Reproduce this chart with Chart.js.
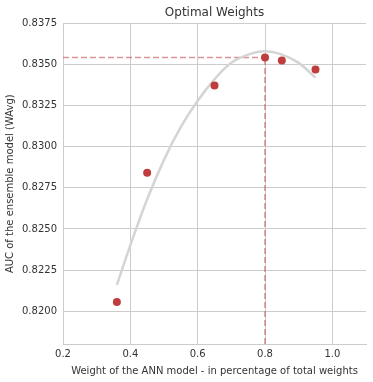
<!DOCTYPE html>
<html>
<head>
<meta charset="utf-8">
<script src="https://cdn.jsdelivr.net/npm/chart.js@4"></script>
<style>
html,body{margin:0;padding:0;background:#fff;}
#wrap{width:373px;height:382px;}
</style>
</head>
<body>
<div id="wrap"><canvas id="c" width="373" height="382"></canvas></div>
<script>
// Observed points
const weightsX = [0.36, 0.45, 0.65, 0.80, 0.85, 0.95];
const aucY = [0.82055, 0.82841, 0.83372, 0.83543, 0.83524, 0.83470];
// Fitted curve
const curveX = [0.36, 0.40, 0.45, 0.50, 0.55, 0.60, 0.65, 0.70, 0.75, 0.80, 0.85, 0.90, 0.95];
const curveY = [0.8216, 0.8240, 0.8268, 0.8292, 0.8312, 0.8328, 0.8341, 0.8351, 0.8356, 0.8358, 0.8356, 0.8351, 0.8342];
// Optimum marker
const bestX = 0.80;
const bestY = 0.83543;
// Axis ticks
const xTicks = [0.2, 0.4, 0.6, 0.8, 1.0];
const yTicks = [0.8200, 0.8225, 0.8250, 0.8275, 0.8300, 0.8325, 0.8350, 0.8375];
const xMin = 0.2, xMax = 1.1, yMin = 0.818, yMax = 0.8375;

const pts = weightsX.map((x, i) => ({x, y: aucY[i]}));
const curve = curveX.map((x, i) => ({x, y: curveY[i]}));
const hLine = [{x: xMin, y: bestY}, {x: bestX, y: bestY}];
const vLine = [{x: bestX, y: yMin}, {x: bestX, y: bestY}];

const dashColor = 'rgba(196,78,82,0.6)';
const textColor = '#333333';
const gridColor = '#cccccc';

new Chart(document.getElementById('c'), {
  type: 'scatter',
  data: {
    datasets: [
      {data: hLine, showLine: true, borderColor: dashColor, borderWidth: 1.6, borderDash: [6, 3], pointRadius: 0, order: 4},
      {data: vLine, showLine: true, borderColor: dashColor, borderWidth: 1.6, borderDash: [6, 3], pointRadius: 0, order: 3},
      {data: curve, showLine: true, borderColor: '#d4d4d4', borderWidth: 2.5, tension: 0.4, pointRadius: 0, order: 2},
      {data: pts, backgroundColor: '#c03d3e', borderWidth: 0, pointRadius: 4, order: 1}
    ]
  },
  options: {
    responsive: false,
    animation: false,
    devicePixelRatio: 1,
    layout: {padding: {top: 0, right: 7, left: 4, bottom: 5}},
    plugins: {
      legend: {display: false},
      tooltip: {enabled: false},
      title: {
        display: true,
        fullSize: false,
        text: 'Optimal Weights',
        color: textColor,
        font: {family: 'DejaVu Sans', size: 12, weight: 'normal'},
        padding: {top: 6, bottom: 3}
      }
    },
    scales: {
      x: {
        type: 'linear',
        min: xMin, max: xMax,
        afterBuildTicks: s => { s.ticks = xTicks.map(v => ({value: v})); },
        afterFit: s => { s.height = 33; },
        ticks: {
          color: textColor, padding: 4,
          font: {family: 'DejaVu Sans', size: 10},
          callback: v => Number(v).toFixed(1)
        },
        grid: {color: gridColor, drawTicks: false, lineWidth: 1},
        border: {display: true, color: gridColor},
        title: {
          display: true,
          text: 'Weight of the ANN model - in percentage of total weights',
          color: textColor,
          font: {family: 'DejaVu Sans', size: 10},
          padding: {top: 2, bottom: 0}
        }
      },
      y: {
        type: 'linear',
        min: yMin, max: yMax,
        afterBuildTicks: s => { s.ticks = yTicks.map(v => ({value: v})); },
        afterFit: s => { s.width = 59; },
        ticks: {
          color: textColor, padding: 6,
          font: {family: 'DejaVu Sans', size: 10},
          callback: v => Number(v).toFixed(4)
        },
        grid: {color: gridColor, drawTicks: false, lineWidth: 1},
        border: {display: true, color: gridColor},
        title: {
          display: true,
          text: 'AUC of the ensemble model (WAvg)',
          color: textColor,
          font: {family: 'DejaVu Sans', size: 10},
          padding: {top: 0, bottom: 0}
        }
      }
    }
  }
});
</script>
</body>
</html>
